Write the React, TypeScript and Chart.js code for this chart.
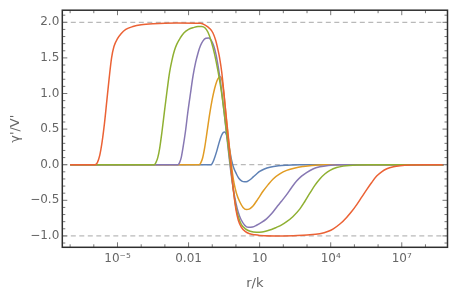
import React, { useEffect, useRef } from "react";
import { Chart, registerables } from "chart.js";
Chart.register(...registerables);

// Axis ranges (log10 of r/k for x)
const X_MIN_EXP = -7.33;
const X_MAX_EXP = 8.93;
const Y_MIN = -1.16;
const Y_MAX = 2.17;

// Tick labels
const Y_TICKS = [-1, -0.5, 0, 0.5, 1, 1.5, 2];
const X_TICKS = [1e-5, 1e-2, 1e1, 1e4, 1e7];
const X_TICK_LABELS = ["10⁻⁵", "0.01", "10", "10⁴", "10⁷"];
const REF_LINES = [2, 0, -1];

// Series: [log10(r/k), γ'/V']
const RED = [
  [-7, 0], [-5.95, 0], [-5.85, 0.03], [-5.75, 0.13], [-5.65, 0.32], [-5.55, 0.58], [-5.45, 0.9],
  [-5.35, 1.22], [-5.25, 1.5], [-5.15, 1.66], [-5.0, 1.77], [-4.85, 1.84], [-4.65, 1.9],
  [-4.35, 1.94], [-4.0, 1.965], [-3.5, 1.98], [-2.5, 1.99], [-1.5, 1.985], [-1.3, 1.96],
  [-1.1, 1.91], [-0.97, 1.85], [-0.85, 1.74], [-0.75, 1.6], [-0.69, 1.5], [-0.6, 1.3],
  [-0.5, 0.98], [-0.4, 0.62], [-0.3, 0.3], [-0.2, -0.05], [-0.1, -0.38], [0.0, -0.63],
  [0.1, -0.78], [0.23, -0.88], [0.4, -0.94], [0.58, -0.97], [0.8, -0.985], [1.0, -0.993],
  [2.0, -1.0], [2.6, -0.995], [3.0, -0.988], [3.54, -0.97], [3.9, -0.935], [4.11, -0.9],
  [4.4, -0.83], [4.67, -0.74], [4.9, -0.65], [5.1, -0.56], [5.3, -0.46], [5.52, -0.35],
  [5.73, -0.25], [5.94, -0.16], [6.15, -0.1], [6.37, -0.056], [6.65, -0.028], [6.93, -0.014],
  [7.4, -0.004], [8.0, 0], [8.76, 0],
];
const GREEN = [
  [-7, 0], [-3.45, 0], [-3.38, 0.03], [-3.3, 0.1], [-3.22, 0.23], [-3.12, 0.47], [-3.01, 0.77],
  [-2.9, 1.06], [-2.8, 1.3], [-2.7, 1.47], [-2.6, 1.6], [-2.5, 1.69], [-2.35, 1.78],
  [-2.2, 1.85], [-2.0, 1.9], [-1.8, 1.925], [-1.6, 1.94], [-1.45, 1.94], [-1.3, 1.92],
  [-1.18, 1.86], [-1.05, 1.74], [-0.9, 1.55], [-0.75, 1.3], [-0.61, 1.02], [-0.5, 0.74],
  [-0.4, 0.46], [-0.3, 0.18], [-0.2, -0.1], [-0.1, -0.38], [0.0, -0.6], [0.1, -0.73],
  [0.23, -0.84], [0.4, -0.9], [0.6, -0.935], [0.87, -0.95], [1.1, -0.945], [1.29, -0.93],
  [1.5, -0.91], [1.71, -0.88], [1.93, -0.845], [2.14, -0.8], [2.4, -0.73], [2.7, -0.62],
  [2.9, -0.52], [3.12, -0.4], [3.33, -0.29], [3.54, -0.2], [3.75, -0.13], [3.97, -0.08],
  [4.25, -0.04], [4.53, -0.02], [5.1, -0.003], [5.6, 0], [8.76, 0],
];
const PURPLE = [
  [-7, 0], [-2.45, 0], [-2.38, 0.03], [-2.31, 0.1], [-2.24, 0.23], [-2.13, 0.47], [-2.03, 0.74],
  [-1.92, 1.0], [-1.81, 1.25], [-1.7, 1.44], [-1.6, 1.57], [-1.5, 1.67], [-1.39, 1.74],
  [-1.27, 1.775], [-1.15, 1.78], [-1.05, 1.75], [-0.95, 1.68], [-0.85, 1.56], [-0.77, 1.42],
  [-0.69, 1.25], [-0.58, 0.97], [-0.47, 0.65], [-0.37, 0.35], [-0.26, 0.02], [-0.15, -0.26],
  [-0.05, -0.46], [0.05, -0.61], [0.15, -0.72], [0.23, -0.78], [0.37, -0.85], [0.51, -0.88],
  [0.7, -0.875], [0.87, -0.85], [1.08, -0.81], [1.29, -0.76], [1.5, -0.69], [1.71, -0.6],
  [1.93, -0.51], [2.14, -0.42], [2.35, -0.32], [2.56, -0.23], [2.77, -0.16], [2.98, -0.11],
  [3.25, -0.06], [3.54, -0.03], [3.9, -0.01], [4.3, 0], [8.76, 0],
];
const ORANGE = [
  [-7, 0], [-1.55, 0], [-1.48, 0.03], [-1.41, 0.09], [-1.32, 0.24], [-1.22, 0.46], [-1.11, 0.71],
  [-1.0, 0.92], [-0.9, 1.07], [-0.8, 1.18], [-0.72, 1.225], [-0.66, 1.235], [-0.6, 1.2],
  [-0.54, 1.08], [-0.47, 0.87], [-0.37, 0.55], [-0.26, 0.2], [-0.17, -0.06], [-0.08, -0.26],
  [0.02, -0.4], [0.16, -0.52], [0.3, -0.6], [0.44, -0.63], [0.58, -0.62], [0.72, -0.58],
  [0.93, -0.48], [1.15, -0.37], [1.36, -0.28], [1.57, -0.2], [1.85, -0.13], [2.14, -0.08],
  [2.5, -0.045], [2.84, -0.025], [3.2, -0.01], [3.7, 0], [8.76, 0],
];
const BLUE = [
  [-7, 0], [-1.05, 0], [-1.0, 0.02], [-0.93, 0.07], [-0.82, 0.18], [-0.72, 0.3], [-0.61, 0.41],
  [-0.53, 0.455], [-0.47, 0.46], [-0.41, 0.43], [-0.33, 0.33], [-0.26, 0.2], [-0.19, 0.07],
  [-0.1, -0.04], [0.02, -0.13], [0.12, -0.19], [0.25, -0.23], [0.37, -0.24], [0.48, -0.235],
  [0.58, -0.215], [0.72, -0.175], [0.87, -0.13], [1.0, -0.095], [1.2, -0.06], [1.43, -0.035],
  [1.8, -0.015], [2.14, -0.007], [2.7, 0], [8.76, 0],
];

const FONT = "'DejaVu Sans', 'Liberation Sans', sans-serif";
const TEXT_COLOR = "#666666";

const toXY = (s: number[][]) => s.map(([lx, y]) => ({ x: Math.pow(10, lx), y }));

const fmtY = (v: number) => (v < 0 ? "\u2212" + Math.abs(v).toFixed(1) : v.toFixed(1));

const framePlugin = {
  id: "mmaFrame",
  beforeDatasetsDraw(chart: any) {
    const { ctx, chartArea: a, scales } = chart;
    ctx.save();
    ctx.strokeStyle = "#a8a8a8";
    ctx.lineWidth = 1;
    ctx.setLineDash([5, 3.5]);
    for (const v of REF_LINES) {
      const y = scales.y.getPixelForValue(v);
      ctx.beginPath();
      ctx.moveTo(a.left, y);
      ctx.lineTo(a.right, y);
      ctx.stroke();
    }
    ctx.restore();
  },
  afterDatasetsDraw(chart: any) {
    const { ctx, chartArea: a, scales } = chart;
    ctx.save();
    ctx.strokeStyle = "#777777";
    ctx.lineWidth = 1;
    for (let i = -11; i <= 21; i++) {
      const v = i / 10;
      const major = i % 5 === 0;
      const len = major ? 5 : 3;
      const py = scales.y.getPixelForValue(v);
      ctx.beginPath();
      ctx.moveTo(a.left, py);
      ctx.lineTo(a.left + len, py);
      ctx.moveTo(a.right, py);
      ctx.lineTo(a.right - len, py);
      ctx.stroke();
    }
    for (let e = -7; e <= 8; e++) {
      const major = (e + 5) % 3 === 0;
      const len = major ? 5 : 3;
      const px = scales.x.getPixelForValue(Math.pow(10, e));
      ctx.beginPath();
      ctx.moveTo(px, a.bottom);
      ctx.lineTo(px, a.bottom - len);
      ctx.moveTo(px, a.top);
      ctx.lineTo(px, a.top + len);
      ctx.stroke();
    }
    ctx.strokeStyle = "#2e2e2e";
    ctx.lineWidth = 1.5;
    ctx.strokeRect(a.left, a.top, a.right - a.left, a.bottom - a.top);
    ctx.restore();
  },
};

export default function App() {
  const ref = useRef<HTMLCanvasElement | null>(null);
  useEffect(() => {
    if (!ref.current) return;
    const mk = (label: string, s: number[][], color: string) => ({
      label,
      data: toXY(s),
      borderColor: color,
      backgroundColor: color,
      borderWidth: 1.5,
      pointRadius: 0,
      cubicInterpolationMode: "monotone" as const,
      fill: false,
    });
    const chart = new Chart(ref.current, {
      type: "line",
      data: {
        datasets: [
          mk("red", RED, "#EB6235"),
          mk("green", GREEN, "#8FB032"),
          mk("purple", PURPLE, "#8778B3"),
          mk("orange", ORANGE, "#E19C24"),
          mk("blue", BLUE, "#5E81B5"),
        ],
      },
      options: {
        animation: false,
        responsive: false,
        devicePixelRatio: 1,
        layout: { padding: { top: 7, right: 8.5, bottom: 0, left: 0 } },
        plugins: { legend: { display: false }, tooltip: { enabled: false } },
        scales: {
          x: {
            type: "logarithmic",
            min: Math.pow(10, X_MIN_EXP),
            max: Math.pow(10, X_MAX_EXP),
            grid: { display: false, drawTicks: false },
            border: { display: false },
            afterBuildTicks: (s: any) => {
              s.ticks = X_TICKS.map((v) => ({ value: v }));
            },
            afterFit: (s: any) => {
              s.height = 50.7;
            },
            ticks: {
              callback: (_v: any, i: number) => X_TICK_LABELS[i],
              font: { family: FONT, size: 12 },
              color: TEXT_COLOR,
              padding: 4,
              maxRotation: 0,
              autoSkip: false,
            },
            title: {
              display: true,
              text: "r/k",
              font: { family: FONT, size: 13 },
              color: TEXT_COLOR,
              padding: { top: 0, bottom: 7 },
            },
          },
          y: {
            type: "linear",
            min: Y_MIN,
            max: Y_MAX,
            grid: { display: false, drawTicks: false },
            border: { display: false },
            afterBuildTicks: (s: any) => {
              s.ticks = Y_TICKS.map((v) => ({ value: v }));
            },
            afterFit: (s: any) => {
              s.width = 62.3;
            },
            ticks: {
              callback: (v: any) => fmtY(Number(v)),
              font: { family: FONT, size: 12 },
              color: TEXT_COLOR,
              padding: 3,
              autoSkip: false,
            },
            title: {
              display: true,
              text: "γ'/V'",
              font: { family: FONT, size: 13 },
              color: TEXT_COLOR,
              padding: { top: 7.5, bottom: 0 },
            },
          },
        },
      },
      plugins: [framePlugin],
    });
    return () => chart.destroy();
  }, []);
  return (
    <div style={{ position: "fixed", left: 0, top: 0, width: 456, height: 298, background: "#fff" }}>
      <canvas ref={ref} width={456} height={298} />
    </div>
  );
}
